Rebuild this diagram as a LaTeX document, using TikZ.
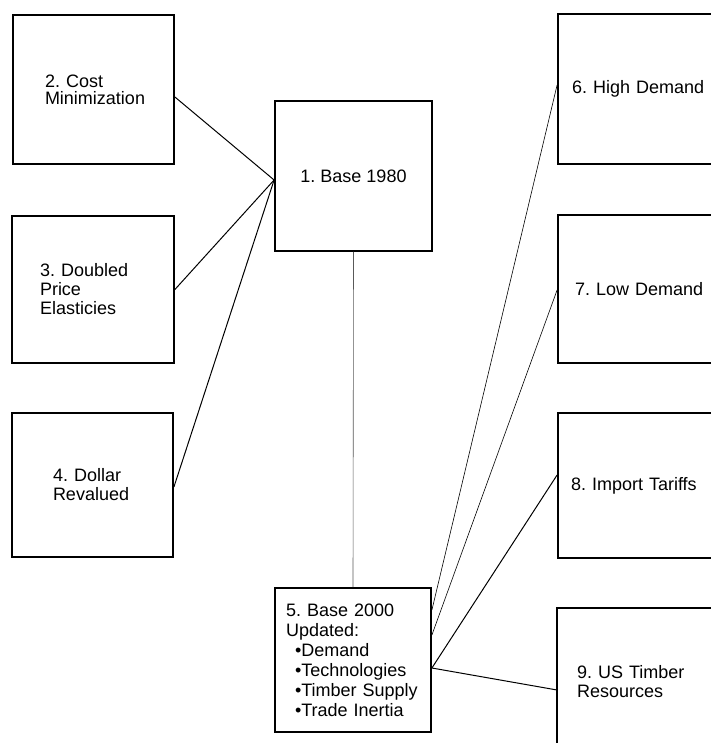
\documentclass[tikz,border=0pt]{standalone}
\usepackage{fontspec}
\setmainfont{Liberation Sans}
\frenchspacing
\begin{document}
\begin{tikzpicture}[x=1pt,y=-1pt,
  box/.style={draw, line width=1.8pt, rectangle, inner ysep=0pt, align=left,
    font=\fontsize{18}{19}\selectfont},
  openbox/.style={box, draw=none},
  conn/.style={line width=1pt},
  faint/.style={line width=0.6pt},
  vline/.style={line width=0.6pt, black!65}]
\useasboundingbox (0,0) rectangle (711,754);
\clip (0,0) rectangle (711,754);
% left column
\node[box, minimum width=161pt, minimum height=149pt, inner xsep=32pt, text width=97pt,
  font=\fontsize{18}{17}\selectfont] (b2) at (93.5,89.5) {2. Cost\\Minimization\\[4pt]};
\node[box, minimum width=162pt, minimum height=147pt, inner xsep=28pt, text width=106pt] (b3) at (93,289.5) {3. Doubled\\Price\\Elasticies};
\node[box, minimum width=161pt, minimum height=144pt, inner xsep=41pt, text width=79pt] (b4) at (92.5,485) {4. Dollar\\Revalued};
% middle column
\node[box, align=center, minimum width=157pt, minimum height=150pt] (b1) at (353.5,176) {1. Base 1980};
\node[box, minimum width=156pt, minimum height=144pt, inner xsep=11pt, text width=134pt,
  font=\fontsize{18}{20}\selectfont] (b5) at (353,660)
  {5. Base 2000\\Updated:\\\hspace*{9pt}\textbullet Demand\\\hspace*{9pt}\textbullet Technologies\\\hspace*{9pt}\textbullet Timber Supply\\\hspace*{9pt}\textbullet Trade Inertia};
% right column (cut off at the right edge)
\node[box, minimum width=202pt, minimum height=150pt, inner xsep=14pt, text width=174pt] (b6) at (659,89) {6. High Demand};
\node[box, minimum width=202pt, minimum height=148pt, inner xsep=17pt, text width=168pt] (b7) at (659,289) {7. Low Demand};
\node[box, minimum width=202pt, minimum height=145pt, inner xsep=13pt, text width=176pt] (b8) at (659,485.5) {8. Import Tariffs};
\node[openbox, minimum width=202pt, minimum height=146pt, inner xsep=19pt, text width=164pt] (b9) at (659,682) {9. US Timber\\Resources};
\draw[line width=1.8pt] (b9.north east) -- (b9.north west) -- ([yshift=13pt]b9.south west);
% connectors
\draw[conn] ([yshift=-7.5pt]b2.east) -- ([yshift=-4pt]b1.west);
\draw[conn] (b3.east) -- ([yshift=-4pt]b1.west);
\draw[conn] ([yshift=-2pt]b4.east) -- ([yshift=-4pt]b1.west);
\draw[vline] (b1.south) -- (b5.north);
\draw[faint] ([yshift=50pt]b5.east) -- ([yshift=4pt]b6.west);
\draw[faint] ([yshift=25pt]b5.east) -- ([yshift=-1pt]b7.west);
\draw[conn] ([yshift=-8pt]b5.east) -- ([yshift=10.5pt]b8.west);
\draw[conn] ([yshift=-8pt]b5.east) -- ([yshift=-8pt]b9.west);
\end{tikzpicture}
\end{document}
